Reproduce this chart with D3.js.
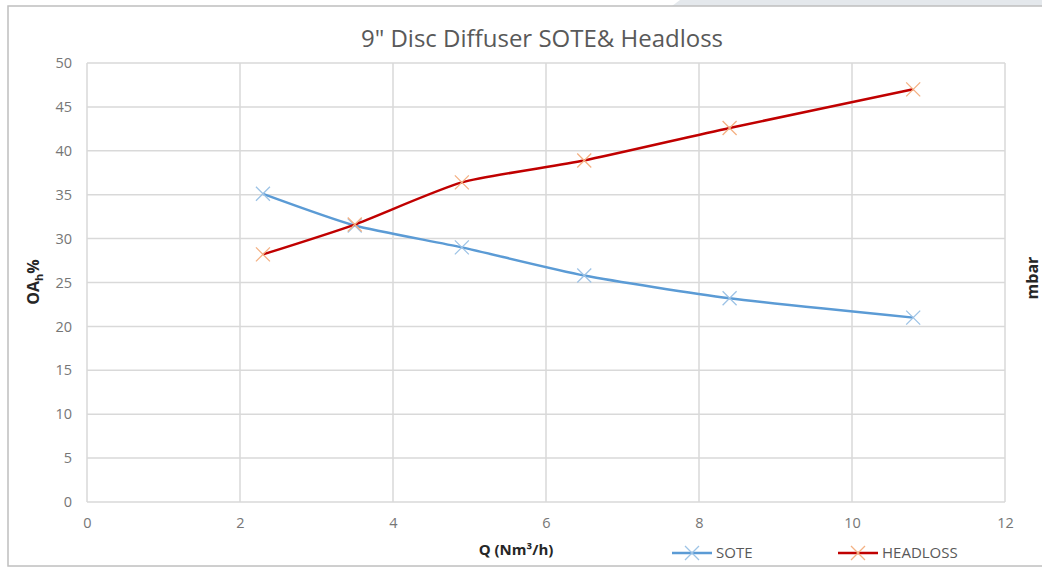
<!DOCTYPE html>
<html>
<head>
<meta charset="utf-8">
<script src="https://cdnjs.cloudflare.com/ajax/libs/d3/7.8.5/d3.min.js"></script>
<style>
  body { margin: 0; background: #fff; }
  text { font-family: "Open Sans", "Noto Sans", sans-serif; }
</style>
</head>
<body>
<div id="chart"></div>
<script>
var flow = [2.3, 3.5, 4.9, 6.5, 8.4, 10.8];
var sote = [35.1, 31.5, 29.0, 25.8, 23.2, 21.0];
var headloss = [28.2, 31.6, 36.4, 38.9, 42.6, 47.0];
var xTicks = [0, 2, 4, 6, 8, 10, 12];
var yTicks = [0, 5, 10, 15, 20, 25, 30, 35, 40, 45, 50];

var width = 1042;
var height = 569;
var margin = { left: 87, right: 37, top: 63, bottom: 67 };

var svg = d3.select('#chart').append('svg')
  .attr('width', width)
  .attr('height', height);

// frame of the picture + strip at top
svg.append('path')
  .attr('d', 'M680,0 L1042,0 L1042,6 L672,6 Z')
  .attr('fill', '#e4e8ec');
svg.append('rect')
  .attr('x', 8).attr('y', 6)
  .attr('width', width + 10).attr('height', height - 9)
  .attr('fill', '#fff')
  .attr('stroke', '#bfbfbf')
  .attr('stroke-width', 1.5);

var x = d3.scaleLinear().domain([0, 12]).range([margin.left, width - margin.right]);
var y = d3.scaleLinear().domain([0, 50]).range([height - margin.bottom, margin.top]);

// grid
svg.append('g')
  .selectAll('line.h')
  .data(yTicks)
  .enter()
  .append('line')
  .attr('x1', x(0)).attr('x2', x(12))
  .attr('y1', function(d) { return y(d); })
  .attr('y2', function(d) { return y(d); })
  .attr('stroke', '#d9d9d9')
  .attr('stroke-width', 1.5);

svg.append('g')
  .selectAll('line.v')
  .data(xTicks)
  .enter()
  .append('line')
  .attr('x1', function(d) { return x(d); })
  .attr('x2', function(d) { return x(d); })
  .attr('y1', y(0)).attr('y2', y(50))
  .attr('stroke', '#d9d9d9')
  .attr('stroke-width', 1.5);

// axes (labels only)
var xAxis = svg.append('g')
  .attr('transform', 'translate(0,' + y(0) + ')')
  .call(d3.axisBottom(x).tickValues(xTicks).tickSize(0).tickPadding(16));
var yAxis = svg.append('g')
  .attr('transform', 'translate(' + x(0) + ',0)')
  .call(d3.axisLeft(y).tickValues(yTicks).tickSize(0).tickPadding(15));
[xAxis, yAxis].forEach(function(a) {
  a.select('.domain').remove();
  a.selectAll('text')
    .attr('fill', '#767676')
    .style('font-size', '14.5px');
});

// title
svg.append('text')
  .attr('x', 542).attr('y', 47)
  .attr('text-anchor', 'middle')
  .attr('fill', '#595959')
  .style('font-size', '24px')
  .text('9" Disc Diffuser SOTE& Headloss');

// axis titles
svg.append('text')
  .attr('x', 516).attr('y', 555)
  .attr('text-anchor', 'middle')
  .attr('fill', '#262626')
  .style('font-size', '15px')
  .style('font-weight', 'bold')
  .text('Q (Nm³/h)');

var yl = svg.append('text')
  .attr('transform', 'translate(39,282) rotate(-90)')
  .attr('text-anchor', 'middle')
  .attr('fill', '#262626')
  .style('font-size', '16px')
  .style('font-weight', 'bold');
yl.append('tspan').text('OA');
yl.append('tspan').attr('dy', 4).style('font-size', '11px').text('h');
yl.append('tspan').attr('dy', -4).text('%');

svg.append('text')
  .attr('transform', 'translate(1038,278) rotate(-90)')
  .attr('text-anchor', 'middle')
  .attr('fill', '#262626')
  .style('font-size', '16px')
  .style('font-weight', 'bold')
  .text('mbar');

// series
var series = [
  { name: 'SOTE', values: sote, color: '#5b9bd5', marker: '#9dc3e6', lx: 672 },
  { name: 'HEADLOSS', values: headloss, color: '#c00000', marker: '#f4b183', lx: 838 }
];

var line = d3.line()
  .x(function(d) { return x(d[0]); })
  .y(function(d) { return y(d[1]); })
  .curve(d3.curveCardinal.tension(0.4));

function cross(g, cx, cy, color) {
  var s = 7;
  g.append('path')
    .attr('d', 'M' + (cx - s) + ',' + (cy - s) + 'L' + (cx + s) + ',' + (cy + s) +
      'M' + (cx - s) + ',' + (cy + s) + 'L' + (cx + s) + ',' + (cy - s))
    .attr('stroke', color)
    .attr('stroke-width', 1.3)
    .attr('fill', 'none');
}

series.forEach(function(s) {
  var pts = flow.map(function(f, i) { return [f, s.values[i]]; });
  svg.append('path')
    .datum(pts)
    .attr('d', line)
    .attr('fill', 'none')
    .attr('stroke', s.color)
    .attr('stroke-width', 2.5);
  var g = svg.append('g');
  pts.forEach(function(p) { cross(g, x(p[0]), y(p[1]), s.marker); });

  // legend
  svg.append('line')
    .attr('x1', s.lx).attr('x2', s.lx + 40)
    .attr('y1', 553).attr('y2', 553)
    .attr('stroke', s.color)
    .attr('stroke-width', 2.5);
  cross(svg, s.lx + 20, 553, s.marker);
  svg.append('text')
    .attr('x', s.lx + 44).attr('y', 558)
    .attr('fill', '#595959')
    .style('font-size', '15px')
    .text(s.name);
});
</script>
</body>
</html>
